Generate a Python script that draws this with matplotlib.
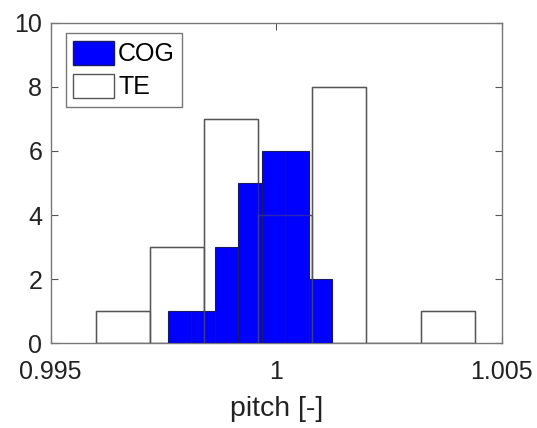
import numpy as np
import matplotlib.pyplot as plt
from matplotlib.patches import Patch

plt.rcParams['font.family'] = ['Liberation Sans', 'DejaVu Sans']

# TE histogram (wide bins)
te_edges = [0.9960, 0.9972, 0.9984, 0.9996, 1.0008, 1.0020, 1.0032, 1.0044]
te_counts = [1, 3, 7, 4, 8, 0, 1]

# COG histogram (narrow bins)
cog_edges = [0.99759, 0.99811, 0.99864, 0.99916, 0.99968, 1.00020, 1.00072, 1.00124]
cog_counts = [1, 1, 3, 5, 6, 6, 2]

xticks = [0.995, 1.0, 1.005]
xticklabels = ['0.995', '1', '1.005']
yticks = [0, 2, 4, 6, 8, 10]

fig = plt.figure(figsize=(5.37, 4.28), dpi=100)
ax = fig.add_axes([0.0944, 0.198, 0.84, 0.749])

edge = '#555555'
blue_edge = '#1a1a60'
te_w = np.diff(te_edges)
cog_w = np.diff(cog_edges)

# TE bars (white), then COG on top, then a faint TE outline seen through blue
ax.bar(te_edges[:-1], te_counts, width=te_w, align='edge', facecolor='white',
       edgecolor=edge, linewidth=1.0, zorder=2)
ax.bar(cog_edges[:-1], cog_counts, width=cog_w, align='edge',
       facecolor='#0000ff', edgecolor=blue_edge, linewidth=0.8, zorder=3)
ax.bar(te_edges[:-1], te_counts, width=te_w, align='edge', facecolor='none',
       edgecolor=edge, linewidth=1.0, alpha=0.45, zorder=4)

ax.set_xlim(0.995, 1.005)
ax.set_ylim(0, 10)
ax.set_xticks(xticks)
ax.set_xticklabels(xticklabels)
ax.set_yticks(yticks)
ax.tick_params(direction='in', length=5, width=0.8, color=edge, labelsize=18,
               top=True, right=True, labelcolor='#222222')
ax.tick_params(axis='x', pad=12)
ax.tick_params(axis='y', pad=6)
for s in ax.spines.values():
    s.set_color('#777777')
    s.set_linewidth(1.0)

ax.set_xlabel('pitch [-]', fontsize=20.5, color='#222222', labelpad=9)

handles = [Patch(facecolor='#0000ff', edgecolor=blue_edge),
           Patch(facecolor='white', edgecolor=edge)]
leg = ax.legend(handles, ['COG', 'TE'], loc='upper left',
                bbox_to_anchor=(0.033, 0.967), fontsize=18,
                frameon=True, fancybox=False, framealpha=1, edgecolor='#777777',
                handlelength=1.65, handleheight=1.1, handletextpad=0.15,
                borderpad=0.3, labelspacing=0.3, borderaxespad=0.0)
leg.get_frame().set_linewidth(1.0)

fig.savefig('out.png', dpi=100, facecolor='white')
